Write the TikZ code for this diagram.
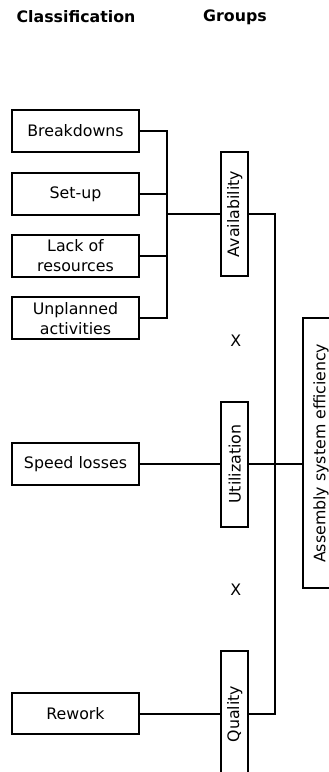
\documentclass[tikz,border=0pt]{standalone}
\usepackage{fontspec}
\setmainfont{DejaVu Sans}
\newcommand\diagfont{\fontsize{15.8pt}{20pt}\selectfont}
\begin{document}
\begin{tikzpicture}[x=1pt,y=-1pt,
  cause/.style={draw, line width=2pt, font=\diagfont, inner sep=0pt, minimum width=127pt, minimum height=41.7pt, align=center},
  group/.style={draw, line width=2pt, font=\diagfont, inner sep=0pt, rotate=90, minimum height=27.3pt},
  heading/.style={font=\diagfont\bfseries, inner sep=0pt},
  timessign/.style={font=\diagfont, inner sep=0pt},
  link/.style={line width=2pt}]
\useasboundingbox (0,0) rectangle (329,772);
\begin{scope}
\clip (0,0) rectangle (329,772);

% column headings
\node[heading] (hcls) at (76,17) {Classification};
\node[heading] (hgrp) at (235,17) {Groups};

% loss causes
\node[cause] (brk)   at (75.5,131)   {Breakdowns};
\node[cause] (setup) at (75.5,194)   {Set-up};
\node[cause] (lack)  at (75.5,256)   {Lack of\\resources};
\node[cause] (unpl)  at (75.5,318.3) {Unplanned\\activities};
\node[cause] (speed) at (75.5,464)   {Speed losses};
\node[cause] (rew)   at (75.5,713.5) {Rework};

% loss groups
\node[group, minimum width=124.3pt] (avail) at (234.7,214) {Availability};
\node[group, minimum width=125pt]   (util)  at (234.7,464) {Utilization};
\node[group, minimum width=126pt]   (qual)  at (234.7,714) {Quality};

% overall efficiency (right part runs past the page edge)
\node[group, minimum width=270pt, minimum height=37pt] (ase) at (321,453.3) {Assembly system efficiency};

% multiplication signs
\node[timessign] (x1) at (235.7,341)   {X};
\node[timessign] (x2) at (235.7,589.3) {X};

% causes -> availability
\coordinate (busA) at (166.7,214);
\draw[link] (brk.east) -| (busA);
\draw[link] (unpl.east) -| (busA);
\draw[link] (setup.east) -- (setup.east -| busA);
\draw[link] (lack.east) -- (lack.east -| busA);
\draw[link] (busA) -- (busA -| avail.north);

% single causes
\draw[link] (speed.east) -- (speed.east -| util.north);
\draw[link] (rew.east) -- (rew.east -| qual.north);

% groups -> efficiency
\coordinate (busB) at (275.3,464);
\draw[link] (avail.south) -| (busB);
\draw[link] (qual.south) -| (busB);
\draw[link] (util.south) -- (util.south -| ase.north);
\end{scope}
\end{tikzpicture}
\end{document}
